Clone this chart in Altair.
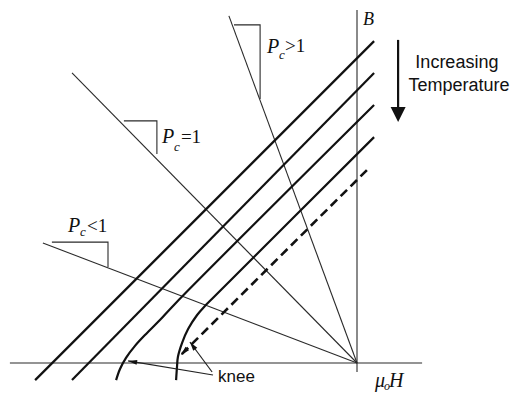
import math
import altair as alt
import pandas as pd

# ---- drawing data (mu0*H and B, both in tesla) ----
# coordinate axes
H_AXIS = [-1.157, 0.217]
B_AXIS = [-0.03, 1.177]

# load lines through the origin, given by their far end points
LOAD_NAMES = ["Pc>1", "Pc=1", "Pc<1"]
LOAD_H = [-0.427, -0.95, -1.047]
LOAD_B = [1.157, 0.967, 0.40]

# slope markers drawn against each load line (three corners each)
TRI_GT_H = [-0.41, -0.323, -0.323]
TRI_GT_B = [1.127, 1.127, 0.88]
TRI_EQ_H = [-0.777, -0.667, -0.667]
TRI_EQ_B = [0.807, 0.807, 0.697]
TRI_LT_H = [-1.017, -0.83, -0.83]
TRI_LT_B = [0.403, 0.403, 0.32]

# demagnetisation curves, from lowest to highest temperature
CURVE1_H = [-1.073, 0.057]
CURVE1_B = [-0.057, 1.073]
CURVE2_H = [-0.95, 0.057]
CURVE2_B = [-0.057, 0.967]
CURVE3_H = [-0.803, -0.79, -0.77, -0.74, -0.703, -0.657, -0.607, 0.057]
CURVE3_B = [-0.057, -0.02, 0.017, 0.057, 0.097, 0.143, 0.197, 0.86]
CURVE4_H = [-0.603, -0.6, -0.597, -0.583, -0.563, -0.533, -0.507, -0.477, 0.057]
CURVE4_B = [-0.057, -0.013, 0.02, 0.067, 0.113, 0.16, 0.19, 0.22, 0.753]

# dashed recoil line (tail, head)
DASH_H = [0.033, -0.587]
DASH_B = [0.643, 0.027]

# "knee" pointers (tail, head)
KNEE1_H = [-0.48, -0.763]
KNEE1_B = [-0.04, 0.007]
KNEE2_H = [-0.483, -0.557]
KNEE2_B = [-0.03, 0.07]

# temperature arrow (top, head tip)
TEMP_H = [0.137, 0.137]
TEMP_B = [1.077, 0.803]

X_DOMAIN = [-1.19, 0.51]
Y_DOMAIN = [-0.10333, 1.21]

x_enc = alt.X("H:Q", scale=alt.Scale(domain=X_DOMAIN, nice=False, zero=False), axis=None)
y_enc = alt.Y("B:Q", scale=alt.Scale(domain=Y_DOMAIN, nice=False, zero=False), axis=None)


def polylines(groups):
    rows = []
    for gid, (hs, bs) in enumerate(groups):
        for i, (h, b) in enumerate(zip(hs, bs)):
            rows.append({"H": h, "B": b, "id": gid, "ord": i})
    return pd.DataFrame(rows)


def line_layer(df, **mark):
    return alt.Chart(df).mark_line(**mark).encode(
        x=x_enc, y=y_enc, detail="id:N", order="ord:Q"
    )


def heading(hs, bs):
    # clockwise angle from screen-up towards the head (equal px per tesla on both axes)
    a = math.degrees(math.atan2(hs[1] - hs[0], bs[1] - bs[0]))
    return a % 360


thin_groups = [(H_AXIS, [0, 0]), ([0, 0], B_AXIS)]
thin_groups += [([0, h], [0, b]) for h, b in zip(LOAD_H, LOAD_B)]
thin_groups += [(TRI_GT_H, TRI_GT_B), (TRI_EQ_H, TRI_EQ_B), (TRI_LT_H, TRI_LT_B)]

thin = line_layer(polylines(thin_groups), color="#2a2a2a", strokeWidth=1.1)

curves = line_layer(
    polylines([(CURVE1_H, CURVE1_B), (CURVE2_H, CURVE2_B),
               (CURVE3_H, CURVE3_B), (CURVE4_H, CURVE4_B)]),
    color="#111111", strokeWidth=2.2, interpolate="catmull-rom",
)

dashed = line_layer(
    polylines([(DASH_H, DASH_B)]),
    color="#111111", strokeWidth=2.6, strokeDash=[9, 5],
)

pointers = line_layer(
    polylines([(KNEE1_H, KNEE1_B), (KNEE2_H, KNEE2_B)]),
    color="#222222", strokeWidth=1.2,
)

temp_shaft = line_layer(
    polylines([(TEMP_H, [TEMP_B[0], TEMP_B[1] + 0.04])]),
    color="#111111", strokeWidth=2.2,
)

# arrow heads: tip sits on the point, shape points up before rotation
small_heads = pd.DataFrame([
    {"H": KNEE1_H[1], "B": KNEE1_B[1], "ang": heading(KNEE1_H, KNEE1_B)},
    {"H": KNEE2_H[1], "B": KNEE2_B[1], "ang": heading(KNEE2_H, KNEE2_B)},
    {"H": DASH_H[1], "B": DASH_B[1], "ang": heading(DASH_H, DASH_B)},
])
heads = alt.Chart(small_heads).mark_point(
    shape="M0,0 L-0.55,2 L0.55,2 Z", filled=True, size=81, color="#111111", opacity=1
).encode(x=x_enc, y=y_enc, angle=alt.Angle("ang:Q", scale=None))

temp_head = alt.Chart(pd.DataFrame([{"H": TEMP_H[1], "B": TEMP_B[1]}])).mark_point(
    shape="M0,0 L-1,2 L1,2 Z", filled=True, size=225, color="#111111", opacity=1, angle=180
).encode(x=x_enc, y=y_enc)

# ---- labels ----
ITALIC_TEXT = ["P", "c", "P", "c", "P", "c", "B", "μ", "o", "H"]
ITALIC_H = [-0.65, -0.61, -0.3, -0.26, -0.963, -0.923, 0.02, 0.06, 0.09, 0.107]
ITALIC_B = [0.733, 0.706, 1.033, 1.013, 0.437, 0.423, 1.127, -0.08, -0.09, -0.08]
ITALIC_SIZE = [20, 13, 20, 13, 20, 13, 18, 20, 12, 20]

ROMAN_TEXT = ["=1", ">1", "<1"]
ROMAN_H = [-0.587, -0.24, -0.9]
ROMAN_B = [0.733, 1.037, 0.437]

SANS_TEXT = ["Increasing", "Temperature", "knee"]
SANS_H = [0.333, 0.34, -0.463]
SANS_B = [0.983, 0.907, -0.063]

italic = alt.Chart(pd.DataFrame({"t": ITALIC_TEXT, "H": ITALIC_H, "B": ITALIC_B, "fs": ITALIC_SIZE})).mark_text(
    font="Liberation Serif", fontStyle="italic", align="left", baseline="alphabetic", color="#111111"
).encode(x=x_enc, y=y_enc, text="t:N", size=alt.Size("fs:Q", scale=None))

roman = alt.Chart(pd.DataFrame({"t": ROMAN_TEXT, "H": ROMAN_H, "B": ROMAN_B})).mark_text(
    font="Liberation Serif", fontSize=19, align="left", baseline="alphabetic", color="#111111"
).encode(x=x_enc, y=y_enc, text="t:N")

sans_center = alt.Chart(pd.DataFrame({"t": SANS_TEXT[:2], "H": SANS_H[:2], "B": SANS_B[:2]})).mark_text(
    font="Liberation Sans", fontSize=18, align="center", baseline="alphabetic", color="#111111"
).encode(x=x_enc, y=y_enc, text="t:N")

sans_left = alt.Chart(pd.DataFrame({"t": SANS_TEXT[2:], "H": SANS_H[2:], "B": SANS_B[2:]})).mark_text(
    font="Liberation Sans", fontSize=17, align="left", baseline="alphabetic", color="#111111"
).encode(x=x_enc, y=y_enc, text="t:N")

chart = alt.layer(
    thin, curves, dashed, pointers, temp_shaft, heads, temp_head,
    italic, roman, sans_center, sans_left,
).properties(
    width=510, height=394, autosize=alt.AutoSizeParams(type="none"), padding=0,
    background="white",
).configure_view(stroke=None)

chart.save("out.html", embed_options={"renderer": "svg", "actions": False})
